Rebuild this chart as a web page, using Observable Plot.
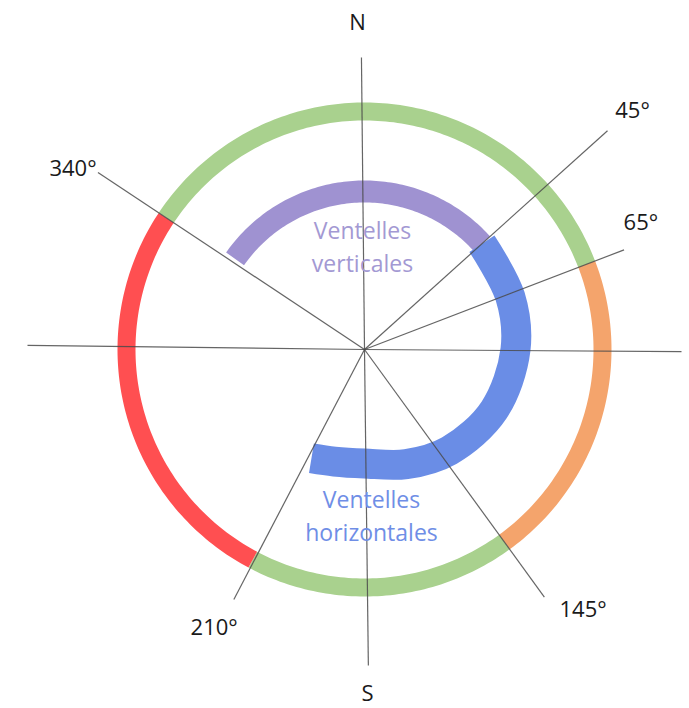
<!DOCTYPE html>
<html>
<head>
<meta charset="utf-8">
<script src="https://cdn.jsdelivr.net/npm/d3@7"></script>
<script src="https://cdn.jsdelivr.net/npm/@observablehq/plot@0.6"></script>
<style>
  body { margin: 0; background: #fff; }
  #chart svg { display: block; }
</style>
</head>
<body>
<div id="chart"></div>
<script>
// ---- Data (bearings in degrees clockwise from north) ----
// Outer ring sectors
const ringStart = [303.6, 69, 144, 208];
const ringEnd   = [429, 144, 208, 303.6];
const ringColor = ["#a9d18e", "#f4a46c", "#a9d18e", "#ff4f51"];
const ringRadius = 238;

// Inner purple arc ("Ventelles verticales")
const purpleStart = 305, purpleEnd = 408, purpleRadius = 158;

// Inner blue spiral ("Ventelles horizontales"): bearing / radius
const blueBearing = [48, 70, 90, 115, 140, 160, 180, 195, 206];
const blueRadius  = [158, 155, 151, 143, 132, 122, 114, 116, 121];

// Radial direction lines: bearing / length
const rayBearing = [359.4, 48, 69, 90.4, 144, 179.3, 207.6, 270.7, 303.6];
const rayLength  = [292, 327, 278, 317, 306, 316, 282, 337, 320];

// Direction labels: text / bearing / distance from centre
const labelText    = ["N", "45°", "65°", "145°", "S", "210°", "340°"];
const labelBearing = [358.8, 48.3, 65.4, 140, 179.5, 208.4, 301.8];
const labelDist    = [327, 359, 304, 340, 344, 316, 343];

// Zone labels
const zoneText = ["Ventelles", "verticales", "Ventelles", "horizontales"];
const zoneX = [-2, -2, 7, 7];
const zoneY = [111, 78, -158, -191];
const zoneColor = ["#a399d3", "#a399d3", "#6f8ee6", "#6f8ee6"];

// ---- helpers ----
const rad = d => d * Math.PI / 180;
const px = (b, r) => r * Math.sin(rad(b));
const py = (b, r) => r * Math.cos(rad(b));
function arc(a0, a1, r, key) {
  const pts = [];
  const n = Math.max(2, Math.ceil(Math.abs(a1 - a0)));
  for (let i = 0; i <= n; i++) {
    const b = a0 + (a1 - a0) * i / n;
    pts.push({x: px(b, r), y: py(b, r), key});
  }
  return pts;
}

const ringPts = ringStart.flatMap((s, i) => arc(s, ringEnd[i], ringRadius, i));
const purplePts = arc(purpleStart, purpleEnd, purpleRadius, "p");
const bluePts = blueBearing.map((b, i) => ({x: px(b, blueRadius[i]), y: py(b, blueRadius[i])}));
const rays = rayBearing.map((b, i) => ({x2: px(b, rayLength[i]), y2: py(b, rayLength[i])}));
const labels = labelText.map((t, i) => ({t, x: px(labelBearing[i], labelDist[i]), y: py(labelBearing[i], labelDist[i])}));
const zones = zoneText.map((t, i) => ({t, x: zoneX[i], y: zoneY[i], c: zoneColor[i]}));

const W = 689, H = 708, CX = 364, CY = 349;

const chart = Plot.plot({
  width: W,
  height: H,
  margin: 0,
  x: {domain: [-CX, W - CX], axis: null},
  y: {domain: [-(H - CY), CY], axis: null},
  style: {fontFamily: "'Open Sans', sans-serif", background: "white"},
  marks: [
    Plot.line(ringPts, {x: "x", y: "y", z: "key", stroke: d => ringColor[d.key], strokeWidth: 18, strokeLinecap: "butt"}),
    Plot.line(purplePts, {x: "x", y: "y", stroke: "#9f92d1", strokeWidth: 22, strokeLinecap: "butt"}),
    Plot.line(bluePts, {x: "x", y: "y", stroke: "#6a8de6", strokeWidth: 30, strokeLinecap: "butt", curve: "catmull-rom"}),
    Plot.link(rays, {x1: 0, y1: 0, x2: "x2", y2: "y2", stroke: "#4a4a4a", strokeWidth: 1.2, strokeOpacity: 0.85}),
    Plot.text(labels, {x: "x", y: "y", text: "t", fontSize: 22, fill: "#1a1a1a"}),
    Plot.text(zones, {x: "x", y: "y", text: "t", fontSize: 23, fill: "c", lineAnchor: "bottom"})
  ]
});
document.getElementById("chart").append(chart);
</script>
</body>
</html>
